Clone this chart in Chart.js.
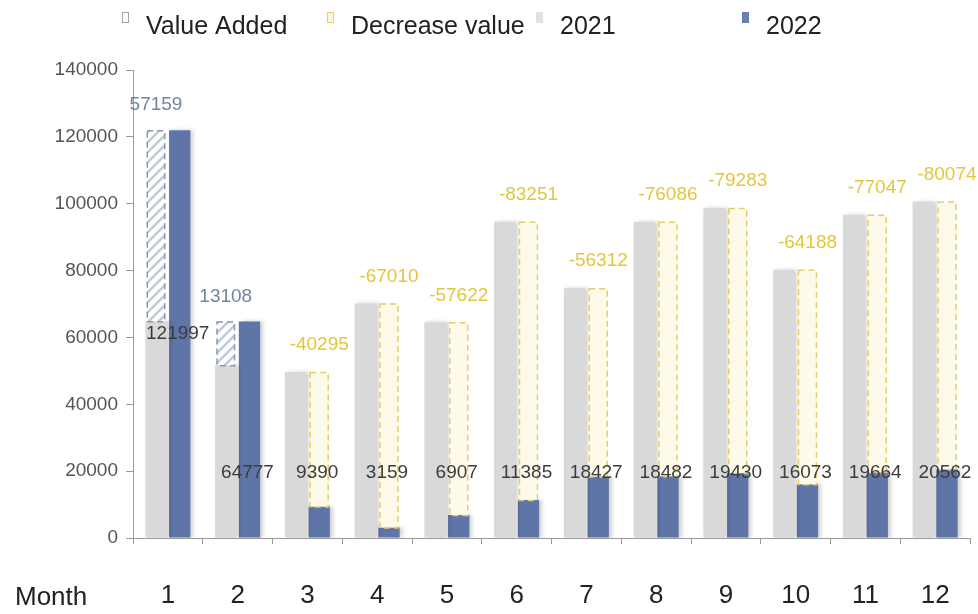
<!DOCTYPE html>
<html>
<head>
<meta charset="utf-8">
<script src="https://cdn.jsdelivr.net/npm/chart.js@4.4.1/dist/chart.umd.min.js"></script>
<style>
    html, body { margin: 0; padding: 0; background: #fff; }
    #caixa { width: 978px; height: 614px; }
</style>
</head>
<body>
<div id="caixa"><canvas id="grafico"></canvas></div>
<script>
// dados mensais
const meses = ['1', '2', '3', '4', '5', '6', '7', '8', '9', '10', '11', '12'];
const valores2021 = [64838, 51669, 49685, 70169, 64529, 94636, 74739, 94568, 98713, 80261, 96711, 100636];
const valores2022 = [121997, 64777, 9390, 3159, 6907, 11385, 18427, 18482, 19430, 16073, 19664, 20562];
const diferenca = [57159, 13108, -40295, -67010, -57622, -83251, -56312, -76086, -79283, -64188, -77047, -80074];
const legendas = ['Value Added', 'Decrease value', '2021', '2022'];
const eixoY = { min: 0, max: 140000, passo: 20000 };

const FONTE = "'Liberation Sans', Arial, sans-serif";

// barra flutuante entre 2021 e 2022
const aumento = diferenca.map((d, i) => d > 0 ? [valores2021[i], valores2022[i]] : null);
const queda = diferenca.map((d, i) => d < 0 ? [valores2022[i], valores2021[i]] : null);

function hachura() {
    const c = document.createElement('canvas');
    c.width = 10; c.height = 10;
    const g = c.getContext('2d');
    g.fillStyle = '#ffffff';
    g.fillRect(0, 0, 10, 10);
    g.strokeStyle = '#bfcbd9';
    g.lineWidth = 2.5;
    g.beginPath();
    g.moveTo(-2, 12); g.lineTo(12, -2);
    g.moveTo(-7, 7); g.lineTo(7, -7);
    g.moveTo(3, 17); g.lineTo(17, 3);
    g.stroke();
    return g.createPattern(c, 'repeat');
}

// contorno tracejado das barras de diferenca
const tracejado = {
    id: 'tracejado',
    afterDatasetsDraw(chart) {
        const ctx = chart.ctx;
        chart.data.datasets.forEach((ds, di) => {
            if (!ds.corTracejado) return;
            const meta = chart.getDatasetMeta(di);
            meta.data.forEach((bar, i) => {
                if (!ds.data[i]) return;
                const p = bar.getProps(['x', 'y', 'base', 'width'], true);
                const topo = Math.min(p.y, p.base);
                const alt = Math.abs(p.base - p.y);
                ctx.save();
                ctx.setLineDash([6, 4]);
                ctx.lineWidth = 1.5;
                ctx.strokeStyle = ds.corTracejado;
                ctx.strokeRect(p.x - p.width / 2 + 0.5, topo + 0.5, p.width - 1, alt);
                ctx.restore();
            });
        });
    }
};

// sombra leve nas barras de 2021 e 2022
const sombra = {
    id: 'sombra',
    beforeDatasetDraw(chart, args) {
        if (!chart.data.datasets[args.index].sombra) return;
        const ctx = chart.ctx;
        ctx.save();
        ctx.shadowColor = 'rgba(0, 0, 0, 0.18)';
        ctx.shadowOffsetX = 3;
        ctx.shadowBlur = 4;
    },
    afterDatasetDraw(chart, args) {
        if (!chart.data.datasets[args.index].sombra) return;
        chart.ctx.restore();
    }
};

// textos: valores, legenda e titulo do eixo
const rotulos = {
    id: 'rotulos',
    afterDraw(chart) {
        const ctx = chart.ctx;
        const y = chart.scales.y;
        ctx.save();
        ctx.textAlign = 'center';
        ctx.textBaseline = 'middle';
        ctx.font = '19px ' + FONTE;

        chart.getDatasetMeta(0).data.forEach((bar, i) => {
            if (!aumento[i]) return;
            ctx.fillStyle = '#6f879e';
            ctx.fillText(diferenca[i], bar.x, Math.min(bar.y, bar.base) - 25);
        });
        chart.getDatasetMeta(1).data.forEach((bar, i) => {
            if (!queda[i]) return;
            ctx.fillStyle = '#e3c63c';
            ctx.fillText(diferenca[i], bar.x, Math.min(bar.y, bar.base) - 27);
        });
        chart.getDatasetMeta(3).data.forEach((bar, i) => {
            ctx.fillStyle = '#3c3c3c';
            const py = valores2022[i] > 100000 ? (bar.y + bar.base) / 2 : y.getPixelForValue(20000) + 2;
            ctx.fillText(valores2022[i], bar.x - 2, py);
        });

        // titulo do eixo x
        ctx.textAlign = 'left';
        ctx.fillStyle = '#222';
        ctx.font = '26px ' + FONTE;
        ctx.fillText('Month', 15, 598);

        // legenda
        const itens = [
            { x: 122, cor: '#ffffff', borda: '#9aa6b4' },
            { x: 327, cor: '#fdf8dc', borda: '#e8d36a' },
            { x: 536, cor: '#e2e2e2', borda: null },
            { x: 742, cor: '#6a7fb0', borda: null }
        ];
        ctx.font = '25px ' + FONTE;
        itens.forEach((it, k) => {
            ctx.fillStyle = it.cor;
            ctx.fillRect(it.x, 12, 7, 11);
            if (it.borda) {
                ctx.strokeStyle = it.borda;
                ctx.lineWidth = 1;
                ctx.strokeRect(it.x + 0.5, 12.5, 6, 10);
            }
            ctx.fillStyle = '#222';
            ctx.fillText(legendas[k], it.x + 24, 27);
        });
        ctx.restore();
    }
};

const ticksY = [];
for (let v = eixoY.min; v <= eixoY.max; v += eixoY.passo) ticksY.push(v);

const ctx = document.getElementById('grafico');

new Chart(ctx, {
    type: 'bar',
    data: {
        labels: meses,
        datasets: [{
            label: legendas[0],
            data: aumento,
            stack: 'a',
            backgroundColor: hachura(),
            corTracejado: '#8e9aa8',
            barPercentage: 0.78
        }, {
            label: legendas[1],
            data: queda,
            stack: 'b',
            backgroundColor: '#fdfaea',
            corTracejado: '#e2cf6a',
            barPercentage: 0.8
        }, {
            label: legendas[2],
            data: valores2021,
            stack: 'a',
            backgroundColor: '#d9d9d9',
            sombra: true
        }, {
            label: legendas[3],
            data: valores2022,
            stack: 'b',
            backgroundColor: '#5f75a8',
            sombra: true
        }]
    },
    options: {
        responsive: true,
        maintainAspectRatio: false,
        animation: false,
        layout: { padding: { top: 70, right: 8, left: 0, bottom: 0 } },
        datasets: {
            bar: { categoryPercentage: 0.68, barPercentage: 0.9 }
        },
        plugins: {
            legend: { display: false },
            tooltip: { enabled: false }
        },
        scales: {
            x: {
                grid: { display: true, drawOnChartArea: false, tickLength: 6, color: '#9a9a9a' },
                border: { color: '#9a9a9a' },
                ticks: { color: '#222', font: { size: 26, family: FONTE }, padding: 36 },
                afterFit(s) {
                    s.height = 76;
                    s.paddingLeft = 0;
                    s.paddingRight = 0;
                }
            },
            y: {
                stacked: false,
                min: eixoY.min,
                max: eixoY.max,
                afterBuildTicks(s) { s.ticks = ticksY.map(v => ({ value: v })); },
                grid: { display: true, drawOnChartArea: false, tickLength: 7, color: '#9a9a9a' },
                border: { color: '#9a9a9a' },
                ticks: {
                    color: '#555',
                    font: { size: 19, family: FONTE },
                    padding: 8,
                    callback: v => String(v)
                },
                afterFit(s) { s.width = 133; }
            }
        }
    },
    plugins: [sombra, tracejado, rotulos]
});
</script>
</body>
</html>
